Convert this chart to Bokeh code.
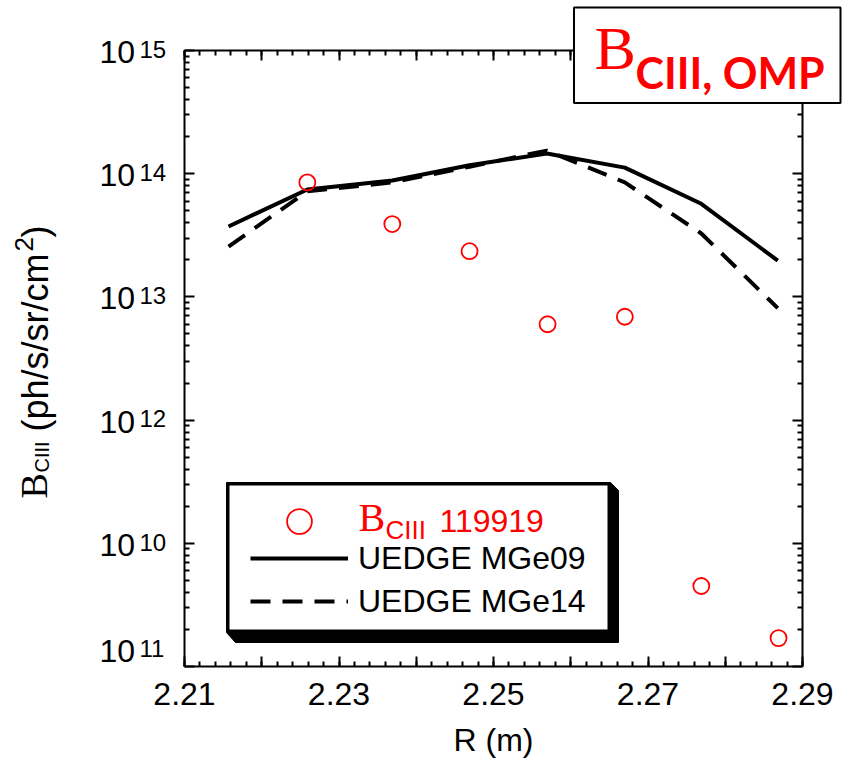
import math
from bokeh.plotting import figure
from bokeh.models import (Range1d, FixedTicker, LinearAxis, LogAxis, Label, LabelSet,
                          ColumnDataSource, BoxAnnotation, PolyAnnotation, Legend, LegendItem)
from bokeh.core.properties import value
from bokeh.embed import file_html
from bokeh.resources import INLINE

# ---------------- data ----------------
r_model = [2.2157, 2.2259, 2.2369, 2.2469, 2.2569, 2.2670, 2.2769, 2.2868]
b_mge09 = [3.73e13, 7.45e13, 8.8e13, 1.17e14, 1.46e14, 1.12e14, 5.7e13, 1.97e13]
b_mge14 = [2.56e13, 7.2e13, 8.5e13, 1.14e14, 1.54e14, 8.5e13, 3.27e13, 8.1e12]
r_exp = [2.2259, 2.2369, 2.2469, 2.2570, 2.2670, 2.2769, 2.2869]
b_exp = [8.5e13, 3.9e13, 2.35e13, 6.0e12, 6.9e12, 4.5e10, 1.7e10]
x_tick_labels = ["2.21", "2.23", "2.25", "2.27", "2.29"]
y_tick_values = [1e15, 1e14, 1e13, 1e12, 1e11, 1e10]
y_tick_exponents = ["15", "14", "13", "12", "10", "11"]
legend_labels = ["119919", "UEDGE MGe09", "UEDGE MGe14"]

# ---------------- geometry ----------------
X0, X1 = 2.21, 2.29
Y0, Y1 = 1e10, 1e15
FL, FT, FW, FH = 184, 50, 618, 616     # plot box inside the canvas
W, H = 849, 761
LY0, LY1 = math.log10(Y0), math.log10(Y1)
DEC = FH / (LY1 - LY0)
K = 0.36   # baseline correction (fraction of font size)


def dx(px):
    return X0 + (px - FL) * (X1 - X0) / FW


def dy(py):
    return 10 ** (LY1 - (py - FT) / DEC)


SANS = "Liberation Sans"
SERIF = "Liberation Serif"

# the frame covers the whole canvas; the axes are pinned to the plot box
p = figure(width=W, height=H, x_range=Range1d(dx(0), dx(W)), y_range=Range1d(dy(H), dy(0)),
           y_axis_type="log", output_backend="svg", toolbar_location=None,
           min_border_left=0, min_border_top=0, min_border_right=0, min_border_bottom=0)
p.xgrid.visible = False
p.ygrid.visible = False
p.outline_line_color = None
p.background_fill_color = "white"
p.border_fill_color = "white"

x_major = [round(X0 + 0.01 * i, 2) for i in range(9)]
x_minor = [round(X0 + 0.002 * i, 3) for i in range(41)]
y_major = [10.0 ** k for k in range(10, 16)]
y_minor = [m * 10.0 ** k for k in range(10, 15) for m in range(2, 10)]


def style(ax):
    ax.axis_line_width = 2
    ax.major_tick_line_width = 2
    ax.minor_tick_line_width = 2
    ax.major_tick_in = 10
    ax.major_tick_out = 0
    ax.minor_tick_in = 5
    ax.minor_tick_out = 0


# bottom axis
xa = p.xaxis[0]
xa.ticker = FixedTicker(ticks=x_major, minor_ticks=x_minor)
xa.fixed_location = Y0
xa.bounds = (X0, X1)
xa.major_label_overrides = {t: (f"{t:.2f}" if f"{t:.2f}" in x_tick_labels else "") for t in x_major}
xa.major_label_text_font = SANS
xa.major_label_text_font_size = "32px"
xa.major_label_text_color = "black"
xa.major_label_standoff = 16
xa.axis_label = "R (m)"
xa.axis_label_text_font = SANS
xa.axis_label_text_font_size = "32px"
xa.axis_label_text_font_style = "normal"
xa.axis_label_text_color = "black"
xa.axis_label_standoff = 14
style(xa)

# left axis (labels drawn separately)
ya = p.yaxis[0]
ya.ticker = FixedTicker(ticks=y_major, minor_ticks=y_minor)
ya.fixed_location = X0
ya.bounds = (Y0, Y1)
ya.major_label_overrides = {t: "" for t in y_major}
style(ya)

# mirrored axes
top = LinearAxis(ticker=FixedTicker(ticks=x_major, minor_ticks=x_minor), fixed_location=Y1,
                 bounds=(X0, X1), major_label_overrides={t: "" for t in x_major})
style(top)
p.add_layout(top, "above")
right = LogAxis(ticker=FixedTicker(ticks=y_major, minor_ticks=y_minor), fixed_location=X1,
                bounds=(Y0, Y1), major_label_overrides={t: "" for t in y_major})
style(right)
p.add_layout(right, "right")

# ---------------- data marks ----------------
src_m = ColumnDataSource(dict(r=r_model, a=b_mge09, b=b_mge14))
l1 = p.line("r", "a", source=src_m, line_color="black", line_width=4)
l2 = p.line("r", "b", source=src_m, line_color="black", line_width=4, line_dash="20 12")
src_e = ColumnDataSource(dict(r=r_exp, b=b_exp))
c1 = p.scatter("r", "b", source=src_e, marker="circle", size=16, fill_color=None,
               line_color="red", line_width=1.8)


def base(py, size):
    """data y for a wanted alphabetic baseline at pixel row py"""
    return dy(py - K * size)


# ---------------- y tick labels ----------------
tick_px = [FT + (LY1 - math.log10(v)) * DEC for v in y_tick_values]
base_px = [t + (24 if i < len(tick_px) - 1 else 7) for i, t in enumerate(tick_px)]
src_t = ColumnDataSource(dict(x=[dx(99)] * len(base_px), y=[base(b, 32) for b in base_px],
                              t=["10"] * len(base_px)))
src_x = ColumnDataSource(dict(x=[dx(139)] * len(base_px), y=[base(b - 8, 24) for b in base_px],
                              t=y_tick_exponents))
p.add_layout(LabelSet(x="x", y="y", text="t", source=src_t, text_font=value(SANS),
                      text_font_size=value("32px"), text_color=value("black"),
                      text_align=value("left"), text_baseline=value("alphabetic")))
p.add_layout(LabelSet(x="x", y="y", text="t", source=src_x, text_font=value(SANS),
                      text_font_size=value("24px"), text_color=value("black"),
                      text_align=value("left"), text_baseline=value("alphabetic")))

# ---------------- y axis title (rotated pieces) ----------------
for txt, px, py, font, size in [("B", 47, 498, SERIF, 38),
                                ("CIII", 49, 472, SANS, 20),
                                ("(ph/s/sr/cm", 48, 431, SANS, 36),
                                ("2", 33, 251, SANS, 26),
                                (")", 48, 237, SANS, 36)]:
    p.add_layout(Label(x=dx(px - K * size), y=dy(py), text=txt, text_font=font,
                       text_font_size=f"{size}px", text_color="black", angle=90,
                       angle_units="deg", text_align="left", text_baseline="alphabetic"))

# ---------------- legend box ----------------
LB_L, LB_T, LB_R, LB_B = 226, 482, 610, 632
p.add_layout(PolyAnnotation(xs=[dx(v) for v in [LB_L, LB_R, LB_R + 8, LB_R + 8, LB_L + 9, LB_L]],
                            ys=[dy(v) for v in [LB_T, LB_T, LB_T + 8, LB_B + 10, LB_B + 10, LB_B]],
                            fill_color="black", fill_alpha=1, line_color="black", line_alpha=1,
                            line_width=1))
p.add_layout(BoxAnnotation(left=dx(LB_L + 1.5), right=dx(LB_R - 1.5), top=dy(LB_T + 1.5),
                           bottom=dy(LB_B - 1.5), fill_color="white", fill_alpha=1,
                           line_color="black", line_alpha=1, line_width=3))

leg_common = dict(glyph_width=98, label_standoff=10,
                  padding=0, spacing=3, margin=0, background_fill_alpha=0, border_line_alpha=0,
                  label_text_font=SANS, label_text_font_size="32px", label_text_color="black")
leg1 = Legend(items=[LegendItem(label=" ", renderers=[c1])], glyph_height=62, label_height=62,
              location=(250, H - 552), **leg_common)
leg2 = Legend(items=[LegendItem(label=legend_labels[1], renderers=[l1]),
                     LegendItem(label=legend_labels[2], renderers=[l2])],
              glyph_height=40, label_height=40, location=(250, H - 621), **leg_common)
p.add_layout(leg1, "center")
p.add_layout(leg2, "center")

p.add_layout(Label(x=dx(358), y=base(531, 40), text="B", text_font=SERIF, text_font_size="40px",
                   text_color="red", text_baseline="alphabetic"))
p.add_layout(Label(x=dx(385), y=base(539, 26), text="CIII", text_font=SANS, text_font_size="26px",
                   text_color="red", text_baseline="alphabetic"))
p.add_layout(Label(x=dx(439), y=base(532, 32), text=legend_labels[0], text_font=SANS,
                   text_font_size="32px", text_color="red", text_baseline="alphabetic"))

# ---------------- title box ----------------
p.add_layout(BoxAnnotation(left=dx(573.5), right=dx(840), top=dy(7), bottom=dy(102.5),
                           fill_color="white", fill_alpha=1, line_color="black", line_alpha=1,
                           line_width=2))
p.add_layout(Label(x=dx(594), y=base(70, 62), text="B", text_font=SERIF, text_font_size="62px",
                   text_color="red", text_baseline="alphabetic"))
p.add_layout(Label(x=dx(635), y=base(87, 43), text="CIII, OMP", text_font="Lato",
                   text_font_style="bold", text_font_size="43px", text_color="red",
                   text_baseline="alphabetic"))

open("out.html", "w").write(file_html(p, INLINE))
